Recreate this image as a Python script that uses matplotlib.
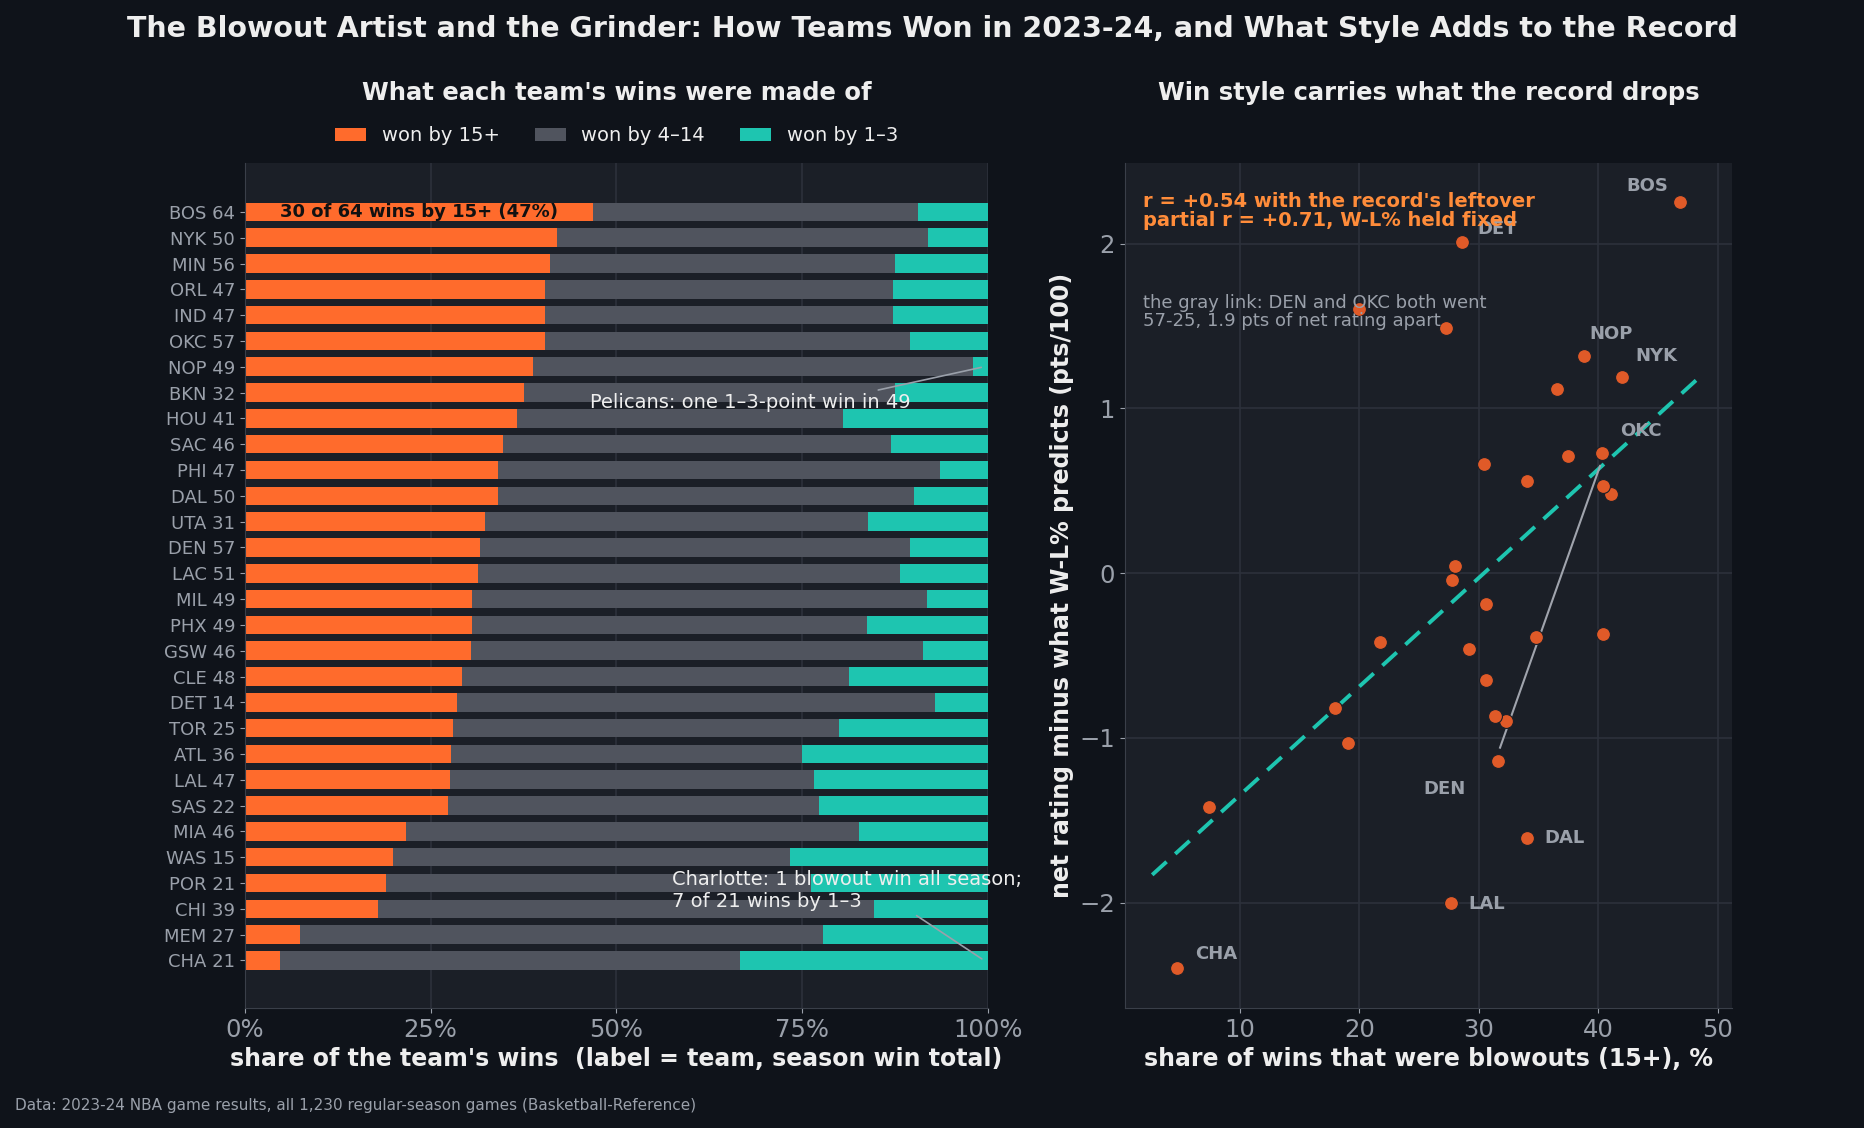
import numpy as np
import matplotlib
matplotlib.use("Agg")
import matplotlib.pyplot as plt

teams = ["BOS","NYK","MIN","ORL","IND","OKC","NOP","BKN","HOU","SAC","PHI","DAL","UTA","DEN","LAC",
         "MIL","PHX","GSW","CLE","DET","TOR","ATL","LAL","SAS","MIA","WAS","POR","CHI","MEM","CHA"]
wins = [64,50,56,47,47,57,49,32,41,46,47,50,31,57,51,49,49,46,48,14,25,36,47,22,46,15,21,39,27,21]
blow = [30,21,23,19,19,23,19,12,15,16,16,17,10,18,16,15,15,14,14,4,7,10,13,6,10,3,4,7,2,1]
mid  = [28,25,26,22,22,28,29,16,18,24,28,28,16,33,29,30,26,28,25,9,13,17,23,11,28,8,12,26,19,13]
close= [6,4,7,6,6,6,1,4,8,6,3,5,5,6,6,4,8,4,9,1,5,9,11,5,8,4,5,6,6,7]
resid = [2.25,1.19,0.48,0.53,-0.37,0.73,1.32,0.71,1.12,-0.39,0.56,-1.61,-0.90,-1.14,-0.87,
         -0.19,-0.65,0.66,-0.46,2.01,0.04,-0.04,-2.00,1.49,-0.42,1.60,-1.03,-0.82,-1.42,-2.40]
labeled = ["BOS","DET","NOP","NYK","OKC","DEN","DAL","LAL","CHA"]

W = np.array(wins, float)
pb = np.array(blow)/W*100; pm = np.array(mid)/W*100; pc = np.array(close)/W*100

BG = "#0f131a"; AX = "#1b1f27"; OR = "#ff6b2c"; GR = "#50545e"; TE = "#1ec5b0"
TXT = "#eeeeee"; MUT = "#9aa0aa"; GRID = "#2c313b"
FW, FH = 1568, 949

fig = plt.figure(figsize=(18.64, 11.28), dpi=100, facecolor=BG)
ax1 = fig.add_axes([206/FW, 1-848/FH, 625/FW, 711/FH], facecolor=AX)
ax2 = fig.add_axes([946/FW, 1-848/FH, 511/FW, 711/FH], facecolor=AX)

fig.text(0.5, 1-24/FH, "The Blowout Artist and the Grinder: How Teams Won in 2023-24, and What Style Adds to the Record",
         ha="center", va="center", color=TXT, fontsize=20.5, fontweight="bold")
fig.text(0.008, 1-930/FH, "Data: 2023-24 NBA game results, all 1,230 regular-season games (Basketball-Reference)",
         color=MUT, fontsize=11, va="center")
fig.text(519/FW, 1-78/FH, "What each team's wins were made of", color=TXT, fontsize=17.5, fontweight="bold",
         ha="center", va="center")
fig.text(1202/FW, 1-78/FH, "Win style carries what the record drops", color=TXT, fontsize=17.5, fontweight="bold",
         ha="center", va="center")

y = np.arange(len(teams))
h = 0.72
ax1.barh(y, pb, h, color=OR, label="won by 15+")
ax1.barh(y, pm, h, left=pb, color=GR, label="won by 4\u201314")
ax1.barh(y, pc, h, left=pb+pm, color=TE, label="won by 1\u20133")
ax1.set_ylim(len(teams)-1+1.84, -1.9)
ax1.set_xlim(0, 100)
ax1.set_yticks(y)
ax1.set_yticklabels([f"{t} {w}" for t, w in zip(teams, wins)], color=MUT, fontsize=13)
ax1.set_xticks([0,25,50,75,100])
ax1.set_xticklabels(["0%","25%","50%","75%","100%"], color=MUT, fontsize=17.5)
ax1.grid(axis="x", color=GRID, lw=1.2)
ax1.set_axisbelow(True)
ax1.set_xlabel("share of the team's wins  (label = team, season win total)", color=TXT, fontsize=17, fontweight="bold")
ax1.legend(loc="lower center", bbox_to_anchor=(0.5, 1.0), ncol=3, frameon=False, fontsize=14,
           labelcolor=TXT, handlelength=1.6, columnspacing=1.8)
ax1.text(pb[0]/2, 0, f"{blow[0]} of {wins[0]} wins by 15+ ({pb[0]:.0f}%)", ha="center", va="center",
         fontsize=13, fontweight="bold", color="#111111")
nop = teams.index("NOP"); cha = teams.index("CHA")
ax1.annotate("Pelicans: one 1\u20133-point win in 49", xy=(pb[nop]+pm[nop]+pc[nop]/2+0.5, nop), xytext=(46.5, nop+1.4),
             color=TXT, fontsize=14, va="center",
             arrowprops=dict(arrowstyle="-", color=MUT, lw=1.2, relpos=(0.85, 1.0)))
ax1.annotate("Charlotte: 1 blowout win all season;\n7 of 21 wins by 1\u20133", xy=(99.5, cha), xytext=(57.5, cha-2.7),
             color=TXT, fontsize=14, va="center",
             arrowprops=dict(arrowstyle="-", color=MUT, lw=1.2, relpos=(0.68, 0.0)))

for ax in (ax1, ax2):
    for s in ax.spines.values():
        s.set_visible(False)
    ax.spines["left"].set_visible(True); ax.spines["left"].set_color("#3a3f49")
    ax.spines["bottom"].set_visible(True); ax.spines["bottom"].set_color("#3a3f49")
    ax.tick_params(colors=MUT)

r = np.array(resid)
ax2.set_xlim(0.35, 51.2); ax2.set_ylim(-2.64, 2.49)
ax2.grid(color=GRID, lw=1.2); ax2.set_axisbelow(True)
co = np.polyfit(pb, r, 1)
xl = np.array([pb.min()-2.1, pb.max()+1.4])
ax2.plot(xl, np.polyval(co, xl), ls=(0, (5, 3)), color=TE, lw=2.8, zorder=2)
d = teams.index("DEN"); o = teams.index("OKC")
ax2.plot([pb[d]+0.2, pb[o]-0.2], [r[d]+0.08, r[o]-0.08], color="#a0a4ad", lw=1.5, zorder=2)
ax2.scatter(pb, r, s=100, color="#e05a28", edgecolor="#1b1f27", lw=0.8, zorder=3)
offs = {"BOS":(-4.5,0.1),"DET":(1.3,0.08),"NOP":(0.5,0.13),"NYK":(1.1,0.13),"OKC":(1.5,0.13),
        "DEN":(-6.2,-0.17),"DAL":(1.5,0.0),"LAL":(1.5,-0.01),"CHA":(1.5,0.09)}
for t in labeled:
    i = teams.index(t); dx, dy = offs[t]
    ax2.text(pb[i]+dx, r[i]+dy, t, color=MUT, fontsize=13, fontweight="bold", va="center")
ax2.text(0.03, 0.965, "r = +0.54 with the record's leftover\npartial r = +0.71, W-L% held fixed", transform=ax2.transAxes,
         color="#ff8c3a", fontsize=14, fontweight="bold", va="top", linespacing=1.0)
ax2.text(0.03, 0.845, "the gray link: DEN and OKC both went\n57-25, 1.9 pts of net rating apart", transform=ax2.transAxes,
         color=MUT, fontsize=13, va="top", linespacing=1.0)
ax2.set_xticks([10,20,30,40,50]); ax2.set_yticks([-2,-1,0,1,2])
ax2.set_yticklabels(["\u22122","\u22121","0","1","2"])
ax2.tick_params(labelsize=17.5)
ax2.set_xlabel("share of wins that were blowouts (15+), %", color=TXT, fontsize=17, fontweight="bold")
ax2.set_ylabel("net rating minus what W-L% predicts (pts/100)", color=TXT, fontsize=17, fontweight="bold")

fig.savefig("out.png", dpi=100, facecolor=BG)
